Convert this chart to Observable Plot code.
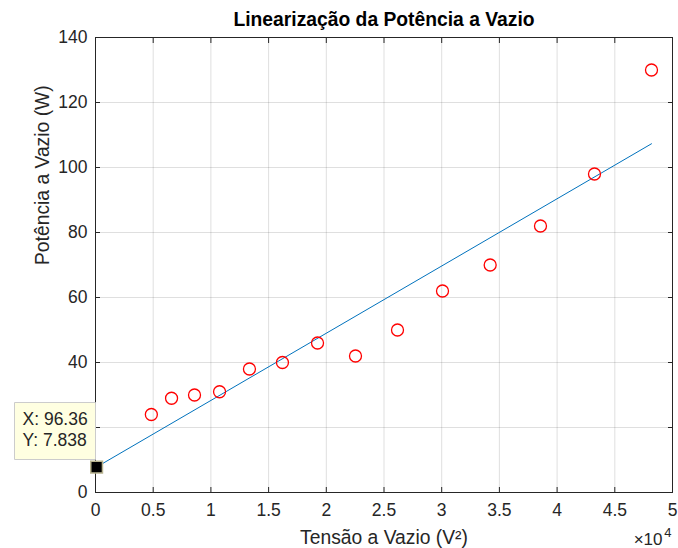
<!DOCTYPE html>
<html>
<head>
<meta charset="utf-8">
<script src="https://cdn.jsdelivr.net/npm/d3@7"></script>
<script src="https://cdn.jsdelivr.net/npm/@observablehq/plot@0.6"></script>
<style>
  html, body { margin: 0; padding: 0; background: white; }
</style>
</head>
<body>
<div id="chart"></div>
<script>
// Measured points (V² vs W)
const tensaoV2 = [4840, 6590, 8580, 10750, 13340, 16200, 19240, 22530, 26170, 30070, 34200, 38560, 43240, 48180];
const potenciaW = [24, 29, 30, 31, 38, 40, 46, 42, 50, 62, 70, 82, 98, 130];

// Linear fit endpoints
const fitX = [96.36, 48180];
const fitY = [7.838, 107.3];

// Data tip
const tipX = [96.36];
const tipY = [7.838];

// Ticks
const xTicks = [0, 5000, 10000, 15000, 20000, 25000, 30000, 35000, 40000, 45000, 50000];
const yTicks = [0, 20, 40, 60, 80, 100, 120, 140];

const titleText = "Linearização da Potência a Vazio";
const xLabel = "Tensão a Vazio (V²)";
const yLabel = "Potência a Vazio (W)";

const points = tensaoV2.map((x, i) => ({x, y: potenciaW[i]}));
const fit = fitX.map((x, i) => ({x, y: fitY[i]}));
const tip = tipX.map((x, i) => ({x, y: tipY[i]}));

const font = "'Liberation Sans', Arial, Helvetica, sans-serif";
const axisColor = "#262626";

const chart = Plot.plot({
  width: 678,
  height: 548,
  marginLeft: 95,
  marginRight: 6,
  marginTop: 37,
  marginBottom: 56,
  style: {fontFamily: font, fontSize: "17.5px", color: axisColor, background: "white"},
  x: {domain: [0, 50000], ticks: xTicks},
  y: {domain: [0, 140], ticks: yTicks},
  marks: [
    Plot.gridX(xTicks, {stroke: axisColor, strokeOpacity: 0.15}),
    Plot.gridY(yTicks, {stroke: axisColor, strokeOpacity: 0.15}),
    Plot.axisX(xTicks, {anchor: "bottom", tickSize: -5, tickPadding: 16, label: null,
      tickFormat: d => d === 0 ? "0" : String(d / 1e4), fontSize: 17.5, stroke: axisColor}),
    Plot.axisX(xTicks, {anchor: "top", tickSize: -5, label: null, fill: "none", stroke: axisColor}),
    Plot.axisY(yTicks, {anchor: "left", tickSize: -5, tickPadding: 13, label: null, fontSize: 17.5, stroke: axisColor}),
    Plot.axisY(yTicks, {anchor: "right", tickSize: -5, label: null, fill: "none", stroke: axisColor}),
    Plot.frame({stroke: axisColor}),
    Plot.line(fit, {x: "x", y: "y", stroke: "#0072BD", strokeWidth: 1}),
    Plot.dot(points, {x: "x", y: "y", r: 6, stroke: "#ff0000", strokeWidth: 1.3, fill: "none"}),
    Plot.dot(tip, {x: "x", y: "y", symbol: "square", r: 6.6, fill: "black", stroke: "#b8b38e", strokeWidth: 1.5}),
    Plot.tip(tip, {
      x: "x", y: "y",
      title: d => `X: ${d.x}\nY: ${d.y}`,
      anchor: "bottom-right",
      pointerSize: 0,
      dx: -1, dy: -8,
      fill: "#ffffe1",
      stroke: "#cccccc",
      fontSize: 17.5,
      lineHeight: 1.2,
      textPadding: 8,
      pathFilter: "none"
    }),
    Plot.text([titleText], {frameAnchor: "top", text: d => d, dy: -18, lineAnchor: "middle",
      fontWeight: "bold", fontSize: 19.3, fill: "black"}),
    Plot.text([xLabel], {frameAnchor: "bottom", text: d => d, dy: 45, lineAnchor: "middle",
      fontSize: 19.3, fill: axisColor}),
    Plot.text([yLabel], {frameAnchor: "left", text: d => d, dx: -53, rotate: -90, lineAnchor: "middle",
      fontSize: 19.3, fill: axisColor}),
    Plot.text(["×10"], {frameAnchor: "bottom-right", text: d => d, textAnchor: "end", dx: -10, dy: 47,
      lineAnchor: "middle", fontSize: 17, fill: axisColor}),
    Plot.text(["4"], {frameAnchor: "bottom-right", text: d => d, textAnchor: "end", dx: -1, dy: 40,
      lineAnchor: "middle", fontSize: 13, fill: axisColor})
  ]
});

document.getElementById("chart").appendChild(chart);
</script>
</body>
</html>
